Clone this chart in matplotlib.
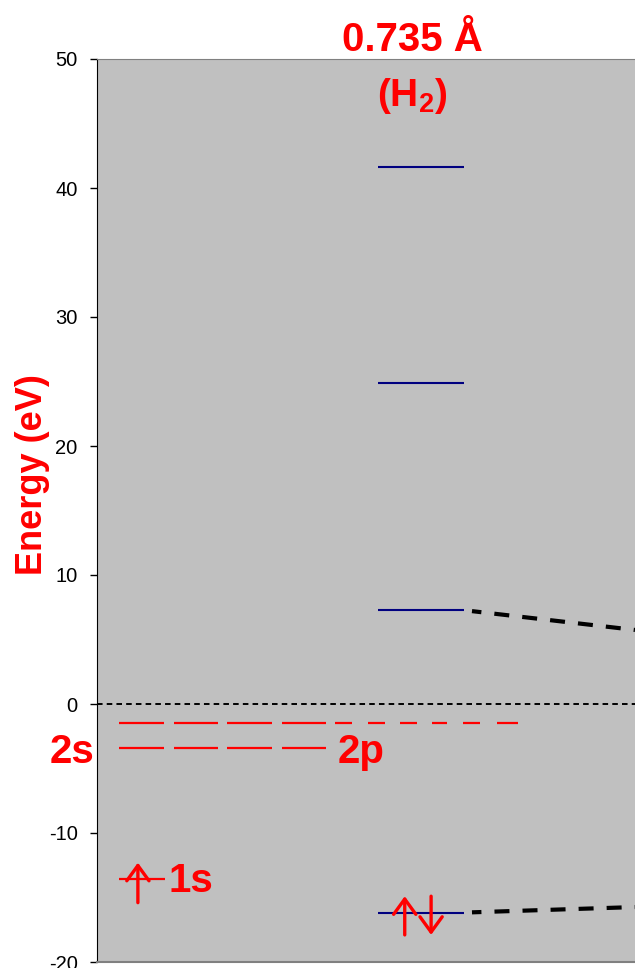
import numpy as np
import matplotlib
matplotlib.use("Agg")
import matplotlib.pyplot as plt

plt.rcParams['font.family'] = ['Liberation Sans', 'DejaVu Sans']
plt.rcParams['axes.unicode_minus'] = False
plt.rcParams['lines.scale_dashes'] = False
plt.rcParams['mathtext.fontset'] = 'custom'
plt.rcParams['mathtext.bf'] = 'Liberation Sans:bold'
plt.rcParams['mathtext.rm'] = 'Liberation Sans:bold'
plt.rcParams['mathtext.default'] = 'bf'

# energies in eV
h_1s = -13.6
h_n2 = -3.4
h_n3 = -1.51
h2_levels = [-16.2, 7.3, 24.9, 41.6]

# x positions (arbitrary column units, 0..10 visible)
n2_segs = [(0.41, 1.25), (1.44, 2.24), (2.42, 3.25), (3.44, 4.26)]
n3_segs = n2_segs + [(4.42, 4.74), (5.04, 5.35), (5.63, 5.95),
                     (6.23, 6.51), (6.80, 7.12), (7.43, 7.83)]
seg_1s = (0.41, 1.26)
h2_x = (5.22, 6.82)
arrow_1s_x = 0.76
arrow_up_x, arrow_dn_x = 5.72, 6.21

# correlation (dashed) lines: x pairs and energy pairs
corr_x = [6.97, 10.0]
corr_upper = [7.2, 5.74]
corr_lower = [-16.15, -15.74]

yticks = np.arange(-20, 51, 10)

fig = plt.figure(figsize=(6.35, 9.68), dpi=100)
ax = fig.add_axes([97/635, 6/968, 1 - 97/635, (962 - 59)/968])
ax.set_facecolor('#C0C0C0')
ax.set_xlim(0, 10)
ax.set_ylim(-20, 50)
ax.set_xticks([])
ax.set_yticks(yticks)
ax.tick_params(axis='y', direction='out', length=5, width=1, labelsize=14.5, pad=9)
ax.spines['right'].set_visible(False)
ax.spines['top'].set_color('#808080')
ax.spines['bottom'].set_color('#808080')
ax.spines['bottom'].set_linewidth(1.5)
ax.spines['left'].set_color('black')

red = '#FF0000'
navy = '#000080'

# zero line
ax.axhline(0, color='black', lw=1.4, ls=(0, (4, 3)))

# atomic levels
for a, b in n3_segs:
    ax.plot([a, b], [h_n3, h_n3], color=red, lw=1.6, solid_capstyle='butt')
for a, b in n2_segs:
    ax.plot([a, b], [h_n2, h_n2], color=red, lw=1.6, solid_capstyle='butt')
ax.plot(seg_1s, [h_1s, h_1s], color=red, lw=1.6, solid_capstyle='butt')

# H2 molecular levels
for e in h2_levels:
    ax.plot(h2_x, [e, e], color=navy, lw=1.5, solid_capstyle='butt')

# correlation lines
ax.plot(corr_x, corr_upper, color='black', lw=3, ls=(4, (10.8, 9.4)))
ax.plot(corr_x, corr_lower, color='black', lw=3, ls=(4, (10.8, 9.4)))

# electron arrows
aprops = dict(arrowstyle='->,head_length=0.55,head_width=0.4', color=red,
              lw=2.4, shrinkA=0, shrinkB=0, mutation_scale=20)
ax.annotate('', xy=(arrow_1s_x, h_1s + 1.3), xytext=(arrow_1s_x, h_1s - 1.8), arrowprops=aprops)
e_b = h2_levels[0]
ax.annotate('', xy=(arrow_up_x, e_b + 1.3), xytext=(arrow_up_x, e_b - 1.7), arrowprops=aprops)
ax.annotate('', xy=(arrow_dn_x, e_b - 1.7), xytext=(arrow_dn_x, e_b + 1.3), arrowprops=aprops)

# labels
lab = dict(color=red, fontsize=29, fontweight='bold', va='center')
ax.text(seg_1s[1] + 0.06, h_1s - 0.1, '1s', ha='left', **lab)
ax.text(n2_segs[-1][1] + 0.22, h_n2 - 0.3, '2p', ha='left', **lab)
ax.text(-0.05, h_n2 - 0.3, '2s', ha='right', clip_on=False, **lab)

fig.text(412/635, 1 - 40/968, '0.735 Å', color=red, fontsize=29,
         fontweight='bold', ha='center', va='center')
fig.text(412/635, 1 - 96/968, '(H$_2$)', color=red, fontsize=28,
         fontweight='bold', ha='center', va='center')
fig.text(33/635, 1 - 475/968, 'Energy (eV)', color=red, fontsize=26,
         fontweight='bold', rotation=90, ha='center', va='center')

fig.savefig('out.png', dpi=100)
